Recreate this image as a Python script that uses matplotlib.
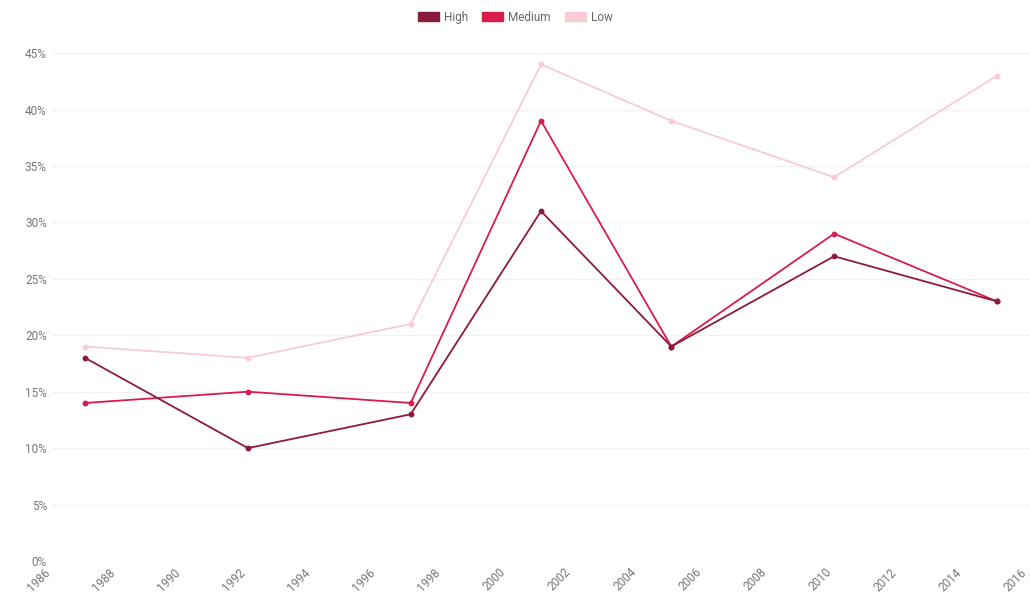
import matplotlib.pyplot as plt
from matplotlib.ticker import FuncFormatter, MultipleLocator
from matplotlib.patches import Patch

plt.rcParams['font.family'] = ['Roboto', 'DejaVu Sans']

years = [1987, 1992, 1997, 2001, 2005, 2010, 2015]
high = [18, 10, 13, 31, 19, 27, 23]
medium = [14, 15, 14, 39, 19, 29, 23]
low = [19, 18, 21, 44, 39, 34, 43]

series_names = ['High', 'Medium', 'Low']
colors = ['#8c1a3c', '#d81c4c', '#f8cbd6']

fig = plt.figure(figsize=(10.3, 6.01), dpi=100)
ax = fig.add_axes([0.0509, 0.0666, 0.9487, 0.845])

# low first so darker lines sit on top
for vals, c, name in zip([low, medium, high], colors[::-1], series_names[::-1]):
    ax.plot(years, vals, color=c, lw=1.3, marker='o', ms=3.2, label=name, zorder=3)

ax.set_xlim(1986, 2016)
ax.set_ylim(0, 45)
ax.xaxis.set_major_locator(MultipleLocator(2))
ax.yaxis.set_major_locator(MultipleLocator(5))
ax.yaxis.set_major_formatter(FuncFormatter(lambda v, p: f'{v:.0f}%'))
ax.grid(axis='y', color='#f2f2f2', lw=1)
ax.set_axisbelow(True)
for s in ax.spines.values():
    s.set_visible(False)
ax.tick_params(length=0, labelsize=8.5, colors='#777777')
ax.tick_params(axis='y', pad=4)
for lab in ax.get_xticklabels():
    lab.set_rotation(45)
    lab.set_ha('right')
    lab.set_va('top')

handles = [Patch(facecolor=c, edgecolor=c, label=n) for c, n in zip(colors, series_names)]
fig.legend(handles=handles, loc='upper center', bbox_to_anchor=(0.5, 1.0), ncol=3,
           frameon=False, fontsize=8.5, handlelength=1.8, handleheight=0.9,
           columnspacing=1.2, handletextpad=0.4, labelcolor='#666666')

fig.savefig('out.png', dpi=100)
